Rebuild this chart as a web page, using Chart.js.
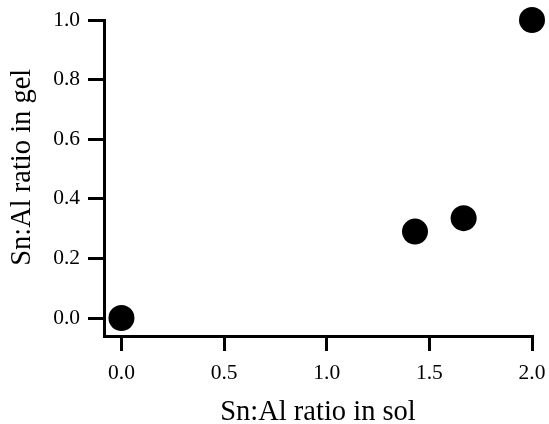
<!DOCTYPE html>
<html>
<head>
<meta charset="utf-8">
<script src="https://cdn.jsdelivr.net/npm/chart.js@4/dist/chart.umd.min.js"></script>
<style>
  html, body { margin: 0; padding: 0; background: #fff; }
  #wrap { width: 549px; height: 424px; }
</style>
</head>
<body>
<div id="wrap"><canvas id="myChart" width="549" height="424"></canvas></div>
<script>
// values
var solRatio = [0, 1.43, 1.667, 2.0];
var gelRatio = [0, 0.29, 0.335, 1.0];
var xTicks = [0, 0.5, 1.0, 1.5, 2.0];
var yTicks = [0, 0.2, 0.4, 0.6, 0.8, 1.0];

var puntos = [];
for (var i = 0; i < solRatio.length; i++) {
    puntos.push({x: solRatio[i], y: gelRatio[i]});
}

var fuente = 'Liberation Serif, Times New Roman, serif';

function fijarTicks(lista) {
    return function(scale) {
        scale.ticks = lista.map(function(v) { return {value: v}; });
    };
}

var ctx = document.getElementById('myChart').getContext('2d');
var chart = new Chart(ctx, {
    type: 'scatter',
    data: {
        datasets: [{
            data: puntos,
            backgroundColor: '#000',
            borderWidth: 0,
            pointRadius: 13,
            pointHoverRadius: 13,
            clip: false
        }]
    },
    options: {
        responsive: false,
        animation: false,
        layout: {padding: {top: 20, right: 17, left: 0, bottom: 0}},
        plugins: {legend: {display: false}, tooltip: {enabled: false}},
        scales: {
            x: {
                type: 'linear',
                min: -0.085,
                max: 2.0,
                afterBuildTicks: fijarTicks(xTicks),
                afterFit: function(scale) {
                    scale.height = 88;
                    scale.paddingLeft = 0;
                    scale.paddingRight = 0;
                },
                border: {display: true, color: '#000', width: 3},
                grid: {drawOnChartArea: false, drawTicks: true, tickLength: 15, color: '#000', lineWidth: 3},
                ticks: {
                    color: '#000',
                    padding: 9,
                    font: {family: fuente, size: 21.5},
                    callback: function(v) { return Number(v).toFixed(1); }
                },
                title: {
                    display: true,
                    text: 'Sn:Al ratio in sol',
                    color: '#000',
                    font: {family: fuente, size: 28.5, lineHeight: 0.8},
                    padding: {top: 0, bottom: 0}
                }
            },
            y: {
                type: 'linear',
                min: -0.0604,
                max: 1.0,
                afterBuildTicks: fijarTicks(yTicks),
                afterFit: function(scale) {
                    scale.width = 104;
                    scale.paddingTop = 0;
                    scale.paddingBottom = 0;
                },
                border: {display: true, color: '#000', width: 3},
                grid: {drawOnChartArea: false, drawTicks: true, tickLength: 16, color: '#000', lineWidth: 3},
                ticks: {
                    color: '#000',
                    padding: 8,
                    font: {family: fuente, size: 21.5},
                    callback: function(v) { return Number(v).toFixed(1); }
                },
                title: {
                    display: true,
                    // leading spaces push the title up to centre it on 0.0-1.0
                    text: '   Sn:Al ratio in gel',
                    color: '#000',
                    font: {family: fuente, size: 28.5},
                    padding: {top: 5, bottom: 0}
                }
            }
        }
    }
});
</script>
</body>
</html>
